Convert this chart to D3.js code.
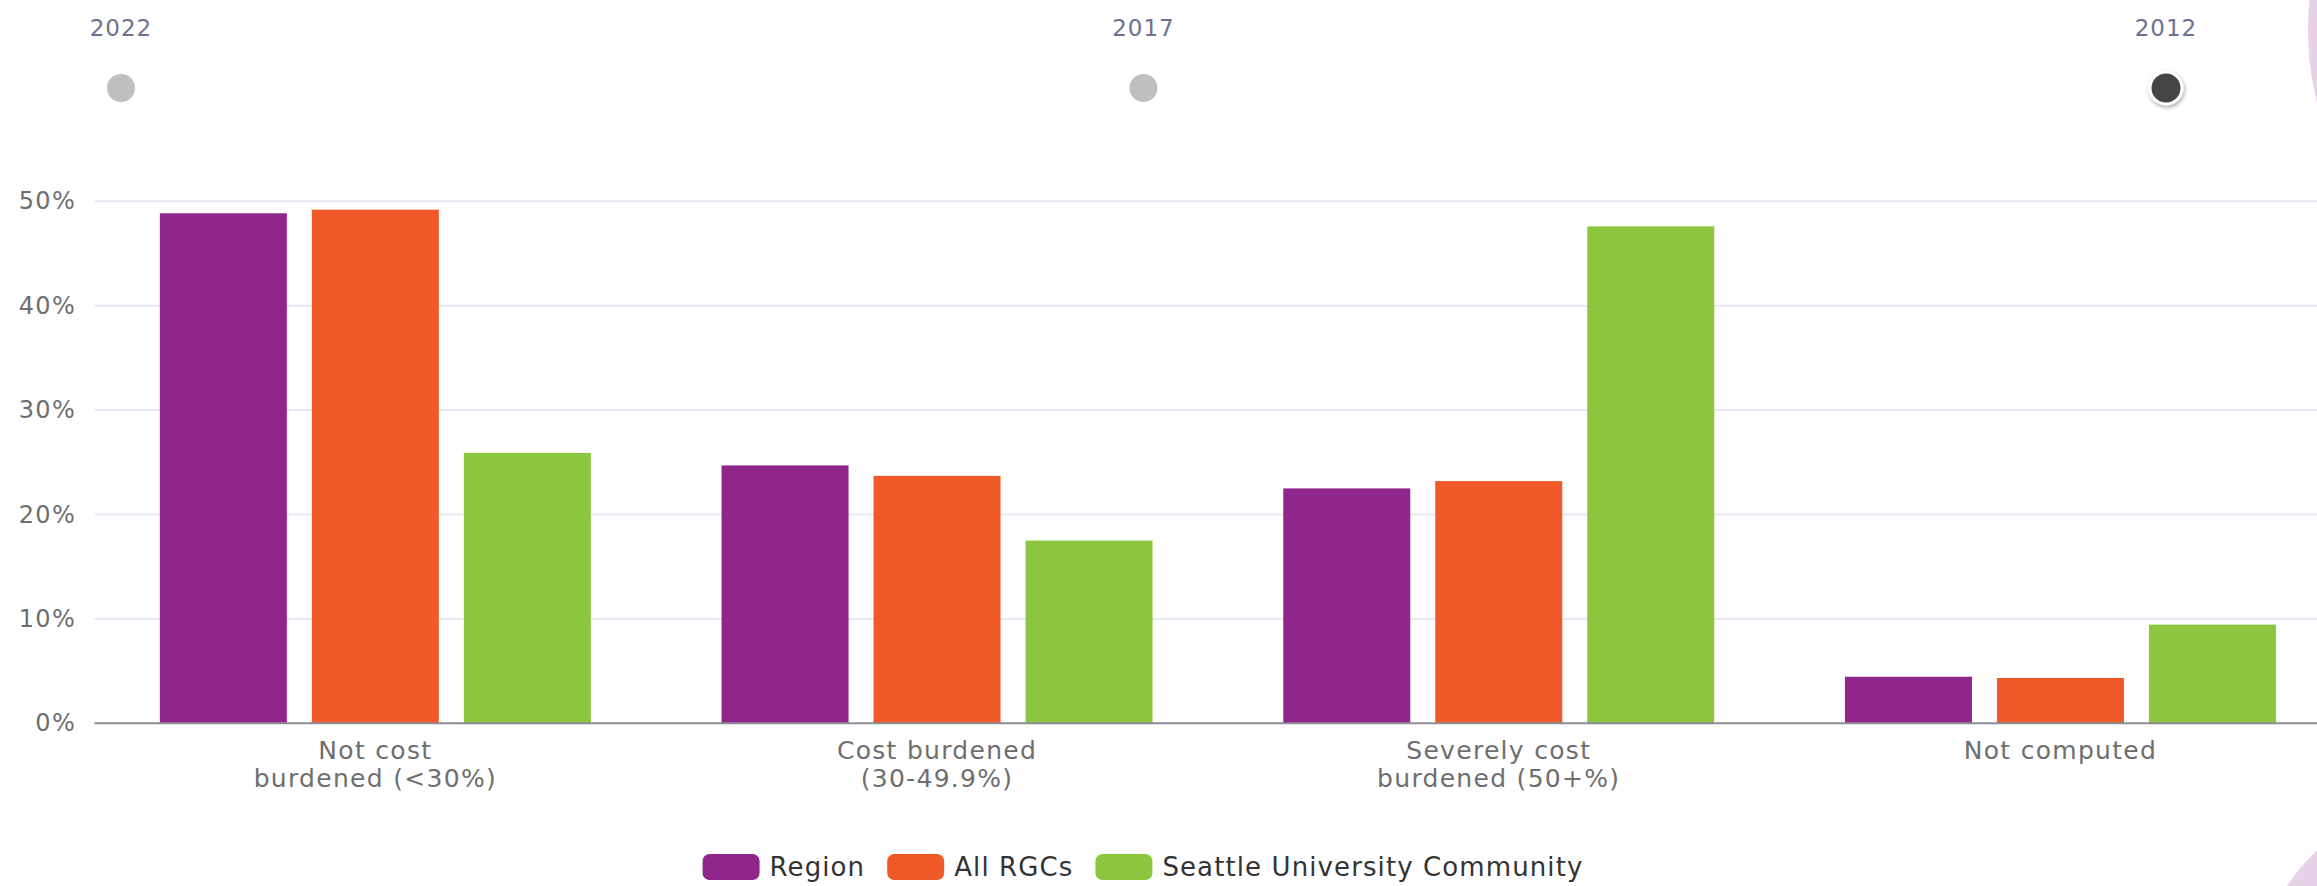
<!DOCTYPE html>
<html>
<head>
<meta charset="utf-8">
<script src="https://cdn.jsdelivr.net/npm/d3@7"></script>
<style>
  html, body { margin: 0; padding: 0; background: #ffffff; overflow: hidden; }
  svg { display: block; }
</style>
</head>
<body>
<svg id="chart" width="2317" height="886"></svg>
<script>
// ---- data ----
const years = ["2022", "2017", "2012"];
const selectedYear = "2012";
const categories = [
  ["Not cost", "burdened (<30%)"],
  ["Cost burdened", "(30-49.9%)"],
  ["Severely cost", "burdened (50+%)"],
  ["Not computed"]
];
const seriesNames = ["Region", "All RGCs", "Seattle University Community"];
const regionValues = [48.85, 24.7, 22.5, 4.46];
const allRgcValues = [49.2, 23.7, 23.2, 4.34];
const seattleUValues = [25.9, 17.5, 47.6, 9.45];
const yTicks = [0, 10, 20, 30, 40, 50];
const colors = ["#91268a", "#f05a28", "#8cc63f"];

const seriesValues = [regionValues, allRgcValues, seattleUValues];
const catKeys = categories.map(c => c.join(" "));

const FONT = "'DejaVu Sans', sans-serif";
const svg = d3.select("#chart");

// decorative pink circles
svg.append("circle").attr("cx", 2608).attr("cy", 30).attr("r", 300).attr("fill", "#e7d2e8");
svg.append("circle").attr("cx", 2454).attr("cy", 996).attr("r", 200).attr("fill", "#e7d2e8");

// ---- timeline ----
const xt = d3.scalePoint().domain(years).range([121, 2166]);
const defs = svg.append("defs");
const f = defs.append("filter").attr("id", "sh").attr("x", "-50%").attr("y", "-50%").attr("width", "200%").attr("height", "200%");
f.append("feDropShadow").attr("dx", 1).attr("dy", 2).attr("stdDeviation", 2).attr("flood-color", "#000").attr("flood-opacity", 0.35);

const tl = svg.append("g");
tl.selectAll("text").data(years).join("text")
  .attr("x", d => xt(d)).attr("y", 36)
  .attr("text-anchor", "middle")
  .attr("font-family", FONT).attr("font-size", 23).attr("letter-spacing", 1)
  .attr("fill", "#6b7291")
  .text(d => d);
tl.selectAll("circle").data(years).join("circle")
  .attr("cx", d => xt(d)).attr("cy", 88)
  .attr("r", d => d === selectedYear ? 16 : 14)
  .attr("fill", d => d === selectedYear ? "#444444" : "#bfbfbf")
  .attr("stroke", d => d === selectedYear ? "#ffffff" : "none")
  .attr("stroke-width", 3)
  .attr("filter", d => d === selectedYear ? "url(#sh)" : null);

// ---- scales ----
const x0 = d3.scaleBand().domain(catKeys).range([94.5, 2341.3]).paddingInner(0).paddingOuter(0);
const x1 = d3.scaleBand().domain(seriesNames).range([0, x0.bandwidth()]).paddingInner(25 / 152).paddingOuter(0.43);
const y = d3.scaleLinear().domain([0, 50]).range([723.3, 201.3]);

// gridlines
const grid = svg.append("g");
grid.selectAll("line").data(yTicks.filter(t => t > 0)).join("line")
  .attr("x1", 94.5).attr("x2", 2341.3)
  .attr("y1", d => y(d)).attr("y2", d => y(d))
  .attr("stroke", "#e6e9f5").attr("stroke-width", 2);

// y axis labels
const yAxis = d3.axisLeft(y).tickValues(yTicks).tickFormat(d => d + "%").tickSize(0).tickPadding(0);
const yg = svg.append("g").attr("transform", "translate(76,0)").call(yAxis);
yg.select(".domain").remove();
yg.selectAll("text").attr("font-family", FONT).attr("font-size", 24).attr("letter-spacing", 1.3).attr("fill", "#6e6e6e");

// bars
const groups = svg.append("g").selectAll("g").data(catKeys).join("g")
  .attr("transform", d => `translate(${x0(d)},0)`);
groups.selectAll("rect")
  .data((d, i) => seriesNames.map((s, j) => ({ s, j, v: seriesValues[j][i] })))
  .join("rect")
  .attr("x", d => x1(d.s))
  .attr("width", x1.bandwidth())
  .attr("y", d => y(d.v))
  .attr("height", d => y(0) - y(d.v))
  .attr("fill", d => colors[d.j]);

// x axis line
svg.append("line").attr("x1", 94.5).attr("x2", 2341.3)
  .attr("y1", y(0)).attr("y2", y(0))
  .attr("stroke", "#8c8c94").attr("stroke-width", 2);

// x labels
const xl = svg.append("g").selectAll("text").data(categories).join("text")
  .attr("x", (d, i) => x0(catKeys[i]) + x0.bandwidth() / 2)
  .attr("y", 759)
  .attr("text-anchor", "middle")
  .attr("font-family", FONT).attr("font-size", 25).attr("letter-spacing", 1.3)
  .attr("fill", "#6e6e6e");
xl.selectAll("tspan").data(d => d).join("tspan")
  .attr("x", function () { return this.parentNode.getAttribute("x"); })
  .attr("dy", (d, i) => i === 0 ? 0 : 28)
  .text(d => d);

// legend
const lg = svg.append("g");
const items = lg.selectAll("g").data(seriesNames).join("g");
items.append("rect").attr("width", 57).attr("height", 26).attr("rx", 7).attr("y", -13)
  .attr("fill", (d, i) => colors[i]);
items.append("text").attr("x", 67).attr("dy", "0.35em")
  .attr("font-family", FONT).attr("font-size", 26).attr("letter-spacing", 1.1).attr("fill", "#333333")
  .text(d => d);
let cx = 0;
const pos = [];
items.each(function () {
  pos.push(cx);
  const w = d3.select(this).select("text").node().getComputedTextLength();
  cx += 67 + w + 22;
});
const total = cx - 22;
const startX = 1143 - total / 2;
items.attr("transform", (d, i) => `translate(${startX + pos[i]},867)`);
</script>
</body>
</html>
